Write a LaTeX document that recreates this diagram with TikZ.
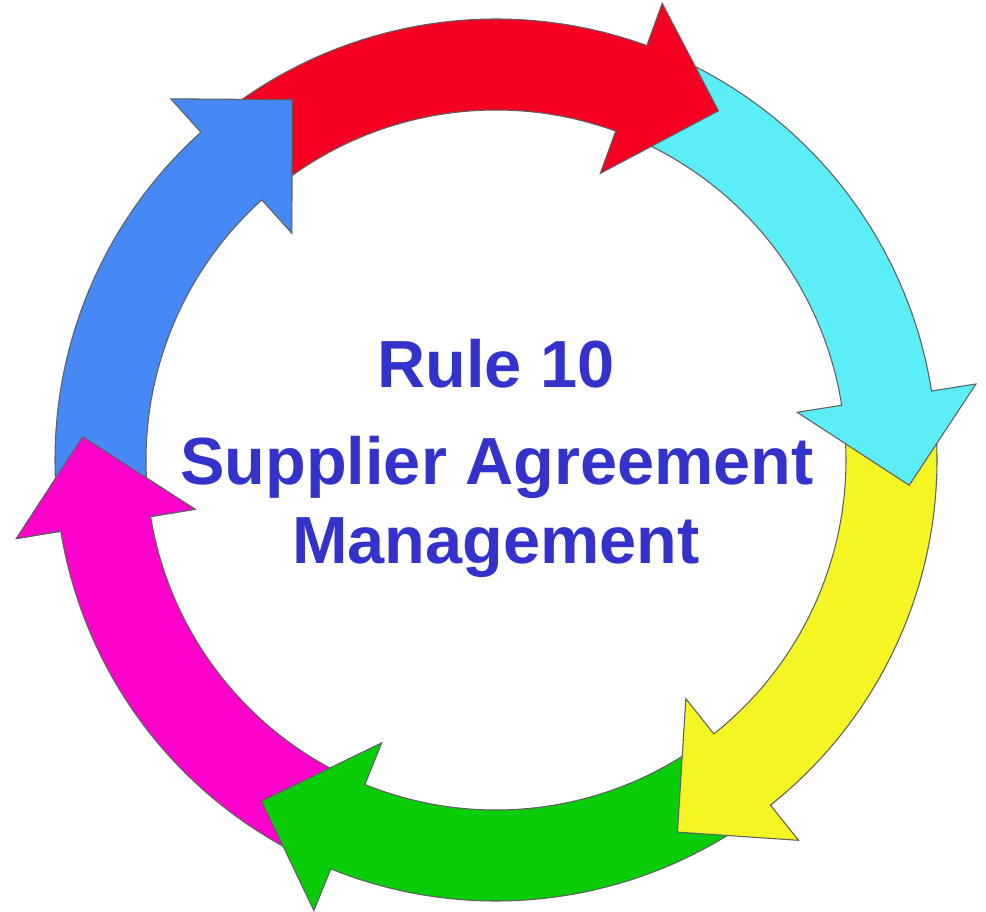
\documentclass[tikz,border=0pt]{standalone}
\usepackage{fontspec}
\setmainfont{Liberation Sans}
\definecolor{cred}{RGB}{245,0,35}
\definecolor{ccyan}{RGB}{92,238,246}
\definecolor{cyellow}{RGB}{245,245,35}
\definecolor{cgreen}{RGB}{10,205,10}
\definecolor{cmagenta}{RGB}{255,0,204}
\definecolor{cblue}{RGB}{70,136,246}
\definecolor{ctext}{RGB}{51,51,204}
\definecolor{cedge}{RGB}{95,95,95}
\newcommand\ringarrow[3]{% colour, start angle, base angle
  \path[arrowshape,fill=#1] (#2:441) arc[start angle=#2, end angle=#3, radius=441]
    -- (#3:486) -- ({#3-12.5}:414) -- (#3:305) -- (#3:350)
    arc[start angle=#3, end angle=#2, radius=350] -- cycle;}
\begin{document}
\begin{tikzpicture}[x=0.75pt,y=0.75pt,
  arrowshape/.style={draw=cedge,line width=0.8pt,line join=miter},
  label/.style={text=ctext,font=\fontsize{50}{60}\selectfont\bfseries,anchor=base,inner sep=0pt}]
\useasboundingbox[fill=white] (-496,-451) rectangle (490,460);
% arrows, clockwise, drawn so each head lies over the next tail
\ringarrow{cmagenta}{-114}{-170.7}
\ringarrow{cgreen}{-53.5}{-112}
\ringarrow{cyellow}{7}{-51.5}
\ringarrow{ccyan}{68}{9}
\ringarrow{cred}{130}{70}
\ringarrow{cblue}{187.3}{132}
% magenta head again, over the blue tail
\fill[cmagenta] (-170.7:441) -- (-170.7:486) -- (-183.2:414) -- (-170.7:305) -- (-170.7:350) -- cycle;
\draw[arrowshape] (-170.7:441) -- (-170.7:486) -- (-183.2:414) -- (-170.7:305) -- (-170.7:350);
\node[label] (rule) at (0,73) {Rule 10};
\node[label] (supplier) at (1,-24) {Supplier Agreement};
\node[label] (management) at (0,-103) {Management};
\end{tikzpicture}
\end{document}
